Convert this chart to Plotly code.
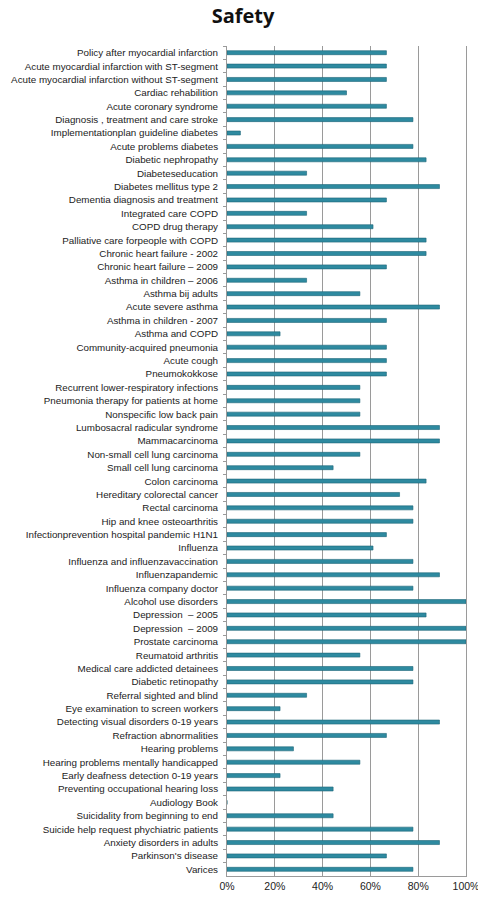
import plotly.graph_objects as go

categories = [
    "Policy after myocardial infarction",
    "Acute myocardial infarction with ST-segment",
    "Acute myocardial infarction without ST-segment",
    "Cardiac rehabilition",
    "Acute coronary syndrome",
    "Diagnosis , treatment and care stroke",
    "Implementationplan guideline diabetes",
    "Acute problems diabetes",
    "Diabetic nephropathy",
    "Diabeteseducation",
    "Diabetes mellitus type 2",
    "Dementia diagnosis and treatment",
    "Integrated care COPD",
    "COPD drug therapy",
    "Palliative care forpeople with COPD",
    "Chronic heart failure - 2002",
    "Chronic heart failure – 2009",
    "Asthma in children – 2006",
    "Asthma bij adults",
    "Acute severe asthma",
    "Asthma in children - 2007",
    "Asthma and COPD",
    "Community-acquired pneumonia",
    "Acute cough",
    "Pneumokokkose",
    "Recurrent lower-respiratory infections",
    "Pneumonia therapy for patients at home",
    "Nonspecific low back pain",
    "Lumbosacral radicular syndrome",
    "Mammacarcinoma",
    "Non-small cell lung carcinoma",
    "Small cell lung carcinoma",
    "Colon carcinoma",
    "Hereditary colorectal cancer",
    "Rectal carcinoma",
    "Hip and knee osteoarthritis",
    "Infectionprevention hospital pandemic H1N1",
    "Influenza",
    "Influenza and influenzavaccination",
    "Influenzapandemic",
    "Influenza company doctor",
    "Alcohol use disorders",
    "Depression  – 2005",
    "Depression  – 2009",
    "Prostate carcinoma",
    "Reumatoid arthritis",
    "Medical care addicted detainees",
    "Diabetic retinopathy",
    "Referral sighted and blind",
    "Eye examination to screen workers",
    "Detecting visual disorders 0-19 years",
    "Refraction abnormalities",
    "Hearing problems",
    "Hearing problems mentally handicapped",
    "Early deafness detection 0-19 years",
    "Preventing occupational hearing loss",
    "Audiology Book",
    "Suicidality from beginning to end",
    "Suicide help request phychiatric patients",
    "Anxiety disorders in adults",
    "Parkinson's disease",
    "Varices",
]

safety = [
    0.667, 0.667, 0.667, 0.500, 0.667, 0.778, 0.056, 0.778, 0.833, 0.333,
    0.889, 0.667, 0.333, 0.611, 0.833, 0.833, 0.667, 0.333, 0.556, 0.889,
    0.667, 0.222, 0.667, 0.667, 0.667, 0.556, 0.556, 0.556, 0.889, 0.889,
    0.556, 0.444, 0.833, 0.722, 0.778, 0.778, 0.667, 0.611, 0.778, 0.889,
    0.778, 1.000, 0.833, 1.000, 1.000, 0.556, 0.778, 0.778, 0.333, 0.222,
    0.889, 0.667, 0.278, 0.556, 0.222, 0.444, 0.000, 0.444, 0.778, 0.889,
    0.667, 0.778,
]

x_ticks = [0, 0.2, 0.4, 0.6, 0.8, 1.0]
x_tick_labels = ["0%", "20%", "40%", "60%", "80%", "100%"]

# The page body keeps an 8px default margin on every side, so the figure is
# sized to fit inside the 486x900 window without any scrolling.
W, H = 470, 884

fig = go.Figure(
    go.Bar(
        x=safety,
        y=categories,
        orientation="h",
        marker=dict(color="#2E8AA0", line=dict(color="#1C6577", width=0.6)),
        hoverinfo="x+y",
    )
)

fig.update_layout(
    width=W,
    height=H,
    margin=dict(l=219, r=12, t=38, b=16, autoexpand=False),
    paper_bgcolor="white",
    plot_bgcolor="white",
    bargap=0.7,
    showlegend=False,
    title=dict(
        text="<b>Safety</b>",
        x=235 / W,
        xref="container",
        xanchor="center",
        y=1 - 8 / H,
        yref="container",
        yanchor="middle",
        font=dict(family="Open Sans, Liberation Sans, sans-serif", size=20, color="#111111"),
    ),
    font=dict(family="Liberation Sans, Arial, sans-serif", size=10, color="#222222"),
)

fig.update_xaxes(
    range=[0, 1.0],
    tickvals=x_ticks,
    ticktext=x_tick_labels,
    showgrid=True,
    gridcolor="#9A9A9A",
    gridwidth=1,
    showline=True,
    linecolor="#9A9A9A",
    linewidth=1,
    zeroline=False,
    ticks="",
    automargin=False,
    ticklabeloverflow="allow",
    tickfont=dict(size=10.5, color="#222222"),
    fixedrange=True,
)

fig.update_yaxes(
    autorange="reversed",
    showline=True,
    mirror=True,
    linecolor="#9A9A9A",
    linewidth=1,
    ticks="outside",
    tickson="boundaries",
    ticklen=3,
    tickcolor="#9A9A9A",
    showgrid=False,
    automargin=False,
    ticklabelstandoff=6,
    tickfont=dict(size=9.8, color="#222222"),
    fixedrange=True,
)

fig.write_html("out.html")
